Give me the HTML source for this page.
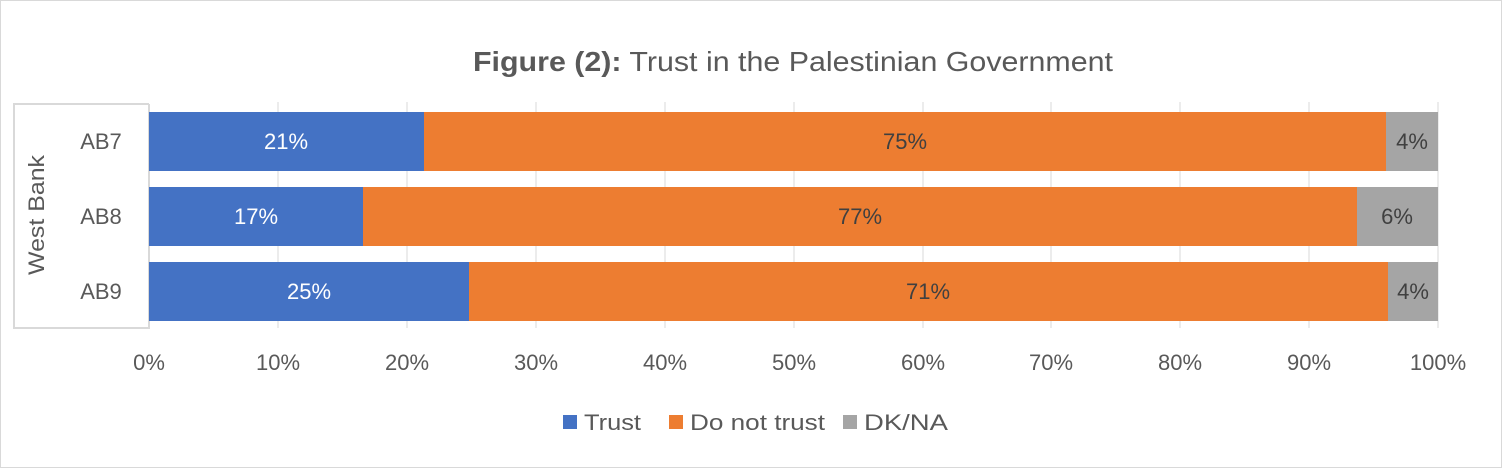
<!DOCTYPE html>
<html><head><meta charset="utf-8"><style>
body{margin:0;background:#fff}
svg text{font-family:"Liberation Sans",sans-serif}
</style></head><body>
<svg width="1502" height="468" viewBox="0 0 1502 468" xmlns="http://www.w3.org/2000/svg">
<rect x="0.5" y="0.5" width="1501" height="467" fill="#fff" stroke="#d9d9d9"/>
<text x="473" y="71" font-size="28" fill="#595959" textLength="640" lengthAdjust="spacingAndGlyphs"><tspan font-weight="bold">Figure (2):</tspan> Trust in the Palestinian Government</text>
<g stroke="#d9d9d9" stroke-width="1">
<line x1="278" y1="102" x2="278" y2="328"/><line x1="407" y1="102" x2="407" y2="328"/>
<line x1="536" y1="102" x2="536" y2="328"/><line x1="665" y1="102" x2="665" y2="328"/>
<line x1="794" y1="102" x2="794" y2="328"/><line x1="923" y1="102" x2="923" y2="328"/>
<line x1="1051" y1="102" x2="1051" y2="328"/><line x1="1180" y1="102" x2="1180" y2="328"/>
<line x1="1309" y1="102" x2="1309" y2="328"/><line x1="1438" y1="102" x2="1438" y2="328"/>
</g>
<path d="M149 104 H14 V328 H149 V104" fill="none" stroke="#d9d9d9" stroke-width="2"/>
<rect x="149" y="112" width="275" height="59" fill="#4472c4"/>
<rect x="424" y="112" width="962" height="59" fill="#ed7d31"/>
<rect x="1386" y="112" width="52" height="59" fill="#a5a5a5"/>
<rect x="149" y="187" width="214" height="59" fill="#4472c4"/>
<rect x="363" y="187" width="994" height="59" fill="#ed7d31"/>
<rect x="1357" y="187" width="81" height="59" fill="#a5a5a5"/>
<rect x="149" y="262" width="320" height="59" fill="#4472c4"/>
<rect x="469" y="262" width="919" height="59" fill="#ed7d31"/>
<rect x="1388" y="262" width="50" height="59" fill="#a5a5a5"/>
<g font-size="22" text-anchor="middle">
<text x="286" y="149" fill="#fff">21%</text><text x="905" y="149" fill="#404040">75%</text><text x="1412" y="149" fill="#404040">4%</text>
<text x="256" y="224" fill="#fff">17%</text><text x="860" y="224" fill="#404040">77%</text><text x="1397" y="224" fill="#404040">6%</text>
<text x="309" y="299" fill="#fff">25%</text><text x="928" y="299" fill="#404040">71%</text><text x="1413" y="299" fill="#404040">4%</text>
</g>
<g font-size="22" fill="#595959" text-anchor="middle">
<text x="101" y="149">AB7</text><text x="101" y="224">AB8</text><text x="101" y="299">AB9</text>
<text transform="translate(44,215) rotate(-90)" textLength="120" lengthAdjust="spacingAndGlyphs">West Bank</text>
</g>
<g font-size="22" fill="#595959" text-anchor="middle">
<text x="149" y="370">0%</text><text x="278" y="370">10%</text><text x="407" y="370">20%</text>
<text x="536" y="370">30%</text><text x="665" y="370">40%</text><text x="794" y="370">50%</text>
<text x="923" y="370">60%</text><text x="1051" y="370">70%</text><text x="1180" y="370">80%</text>
<text x="1309" y="370">90%</text><text x="1438" y="370">100%</text>
</g>
<g font-size="22" fill="#595959">
<rect x="563" y="415" width="14" height="14" fill="#4472c4"/><text x="584" y="430" textLength="57" lengthAdjust="spacingAndGlyphs">Trust</text>
<rect x="669" y="415" width="14" height="14" fill="#ed7d31"/><text x="690" y="430" textLength="135" lengthAdjust="spacingAndGlyphs">Do not trust</text>
<rect x="843" y="415" width="14" height="14" fill="#a5a5a5"/><text x="864" y="430" textLength="84" lengthAdjust="spacingAndGlyphs">DK/NA</text>
</g>
</svg>
</body></html>
